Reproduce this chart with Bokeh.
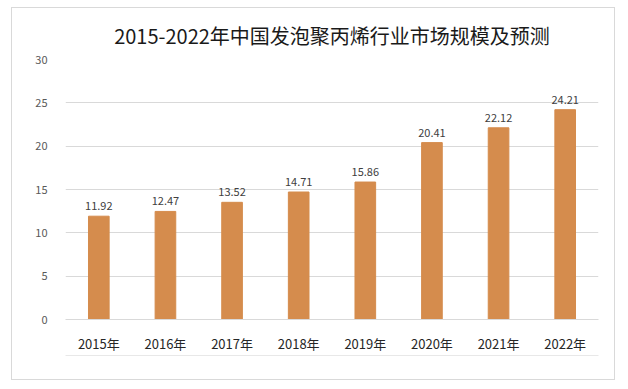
from bokeh.plotting import figure
from bokeh.models import ColumnDataSource, FixedTicker, LabelSet, CategoricalAxis
from bokeh.core.properties import value
from bokeh.embed import file_html
from bokeh.resources import INLINE

title_text = "2015-2022年中国发泡聚丙烯行业市场规模及预测"
years = ["2015年", "2016年", "2017年", "2018年", "2019年", "2020年", "2021年", "2022年"]
values = [11.92, 12.47, 13.52, 14.71, 15.86, 20.41, 22.12, 24.21]
y_ticks = [0, 5, 10, 15, 20, 25, 30]

FONT = "Noto Sans CJK SC"

src = ColumnDataSource(dict(x=years, top=values, label=[f"{v:.2f}" for v in values]))

p = figure(x_range=years, y_range=(0, 30), width=604, height=373,
           output_backend="svg", toolbar_location=None, title=title_text,
           min_border_left=53, min_border_right=18, min_border_top=51, min_border_bottom=62)
p.styles = {"border": "1px solid #D9D9D9", "margin-left": "11px", "margin-top": "7px"}

p.title.align = "center"
p.title.text_font = FONT
p.title.text_font_size = "20px"
p.title.text_font_style = "normal"
p.title.text_color = "#1a1a1a"
p.title.standoff = 19

p.vbar(x="x", top="top", width=0.31, source=src, color="#D58C4D")

labels = LabelSet(x="x", y="top", text="label", source=src, text_align="center",
                  text_baseline="bottom", y_offset=6, text_font_size="11px",
                  text_color="#404040", text_font=value(FONT))
p.add_layout(labels)

p.outline_line_color = None
p.xgrid.grid_line_color = None
p.ygrid.grid_line_color = "#D9D9D9"
p.ygrid.grid_line_width = 1

p.yaxis.ticker = FixedTicker(ticks=y_ticks)
p.yaxis.axis_line_color = None
p.yaxis.major_tick_line_color = None
p.yaxis.minor_tick_line_color = None
p.yaxis.major_label_standoff = 12
p.yaxis.major_label_text_font_size = "11px"
p.yaxis.major_label_text_color = "#595959"
p.yaxis.major_label_text_font = FONT

p.xaxis.axis_line_color = "#D9D9D9"
p.xaxis.major_tick_line_color = None
p.xaxis.minor_tick_line_color = None
p.xaxis.major_label_standoff = 8
p.xaxis.major_label_text_font_size = "13px"
p.xaxis.major_label_text_color = "#262626"
p.xaxis.major_label_text_font = FONT

# faint separator line below the category labels
sep = CategoricalAxis(axis_line_color="#E8E8E8", major_tick_line_color=None,
                      minor_tick_line_color=None, major_label_text_font_size="1px",
                      major_label_text_alpha=0, major_label_standoff=0)
p.add_layout(sep, "below")

open("out.html", "w").write(file_html(p, INLINE))
